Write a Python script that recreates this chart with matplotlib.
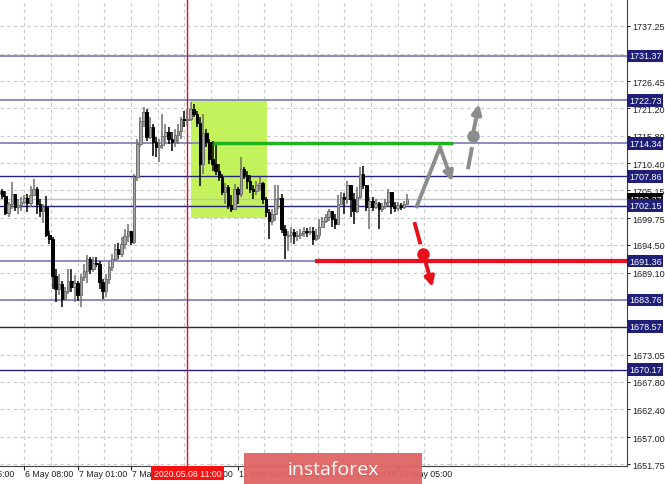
# XAUUSD H1 chart with levels, MT4 style
import numpy as np
import matplotlib.pyplot as plt
from matplotlib.patches import Rectangle

plt.rcParams['font.family'] = ['Liberation Sans', 'DejaVu Sans']

# ~~~ bars (H1) ~~~
open_ = [1704.4, 1705.0, 1704.1, 1700.7, 1702.5, 1704.4, 1701.9, 1702.3, 1702.9, 1703.7,
         1702.7, 1704.2, 1705.4, 1702.5, 1701.1, 1701.9, 1696.4, 1695.7, 1688.4, 1685.9,
         1686.9, 1684.0, 1685.5, 1687.5, 1686.3, 1687.1, 1684.7, 1688.3, 1689.4, 1691.8,
         1689.8, 1691.0, 1690.8, 1687.3, 1685.5, 1687.9, 1690.2, 1691.8, 1693.7, 1692.7,
         1694.7, 1696.2, 1697.2, 1695.1, 1707.8, 1714.2, 1718.7, 1720.4, 1715.6, 1717.5,
         1714.6, 1713.6, 1714.0, 1715.8, 1716.5, 1715.2, 1714.6, 1716.0, 1716.7, 1719.1,
         1718.9, 1719.1, 1721.0, 1720.1, 1718.3, 1710.3, 1716.3, 1714.6, 1711.3, 1710.3,
         1708.9, 1707.8, 1704.8, 1705.8, 1702.3, 1701.5, 1705.4, 1704.4, 1709.3, 1708.2,
         1707.0, 1705.4, 1705.0, 1706.2, 1706.6, 1703.5, 1700.9, 1699.2, 1700.5, 1703.5,
         1703.7, 1697.6, 1696.2, 1696.4, 1697.0, 1696.2, 1696.4, 1696.8, 1697.2, 1697.0,
         1697.2, 1695.7, 1696.4, 1698.0, 1699.2, 1700.0, 1701.1, 1699.6, 1698.6, 1702.5,
         1703.9, 1703.5, 1706.2, 1703.5, 1701.1, 1703.9, 1708.3, 1706.2, 1701.9, 1703.1,
         1701.9, 1702.7, 1701.5, 1702.1, 1702.9, 1704.8, 1702.1, 1701.7, 1702.3, 1701.9,
         1702.5]
high = [1705.8, 1705.4, 1705.0, 1702.9, 1706.8, 1704.4, 1703.5, 1703.9, 1704.2, 1704.4,
        1706.0, 1707.4, 1705.8, 1703.5, 1702.5, 1704.1, 1697.2, 1696.1, 1689.8, 1688.8,
        1687.5, 1686.3, 1689.8, 1689.8, 1688.6, 1687.5, 1688.8, 1690.8, 1692.5, 1692.2,
        1692.2, 1692.2, 1691.4, 1687.9, 1688.8, 1691.4, 1692.7, 1694.7, 1694.9, 1696.1,
        1697.6, 1698.6, 1697.2, 1708.3, 1715.2, 1719.5, 1721.4, 1721.0, 1719.5, 1718.1,
        1715.6, 1715.2, 1720.1, 1718.1, 1717.5, 1716.5, 1717.1, 1718.1, 1719.5, 1720.6,
        1721.0, 1722.4, 1722.0, 1720.6, 1719.5, 1720.1, 1717.1, 1715.2, 1714.8, 1714.2,
        1710.3, 1708.3, 1706.6, 1706.2, 1704.2, 1706.4, 1705.8, 1711.7, 1709.7, 1708.9,
        1708.2, 1706.2, 1707.0, 1707.8, 1706.8, 1703.9, 1701.5, 1701.5, 1706.2, 1706.2,
        1704.4, 1698.4, 1697.2, 1698.0, 1697.6, 1697.2, 1697.6, 1698.0, 1697.8, 1698.0,
        1698.0, 1697.6, 1699.6, 1700.0, 1700.5, 1701.5, 1701.1, 1700.5, 1704.2, 1704.8,
        1704.6, 1707.0, 1706.2, 1704.6, 1705.8, 1709.7, 1709.9, 1706.2, 1703.9, 1703.9,
        1703.5, 1702.9, 1702.7, 1703.5, 1705.4, 1704.8, 1702.9, 1702.9, 1702.7, 1703.1,
        1704.4]
low = [1704.1, 1703.5, 1700.3, 1700.0, 1701.5, 1701.1, 1700.5, 1701.1, 1702.5, 1700.9,
       1701.9, 1704.2, 1700.5, 1700.0, 1698.8, 1696.1, 1694.7, 1685.9, 1683.4, 1684.7,
       1682.4, 1683.6, 1684.9, 1685.3, 1683.4, 1683.6, 1682.4, 1687.5, 1687.1, 1688.8,
       1689.2, 1690.2, 1685.9, 1684.0, 1684.3, 1686.9, 1689.4, 1691.4, 1691.8, 1692.2,
       1693.7, 1695.1, 1694.5, 1694.7, 1707.0, 1713.6, 1717.5, 1714.8, 1715.2, 1711.9,
       1711.7, 1710.7, 1713.2, 1714.2, 1714.2, 1712.8, 1713.6, 1714.2, 1715.2, 1717.5,
       1717.9, 1718.7, 1719.5, 1717.5, 1706.0, 1708.3, 1713.6, 1710.3, 1708.9, 1708.2,
       1707.0, 1704.2, 1702.5, 1701.5, 1700.9, 1701.5, 1702.5, 1703.9, 1707.4, 1705.4,
       1704.6, 1703.5, 1704.2, 1705.0, 1702.5, 1700.0, 1695.7, 1698.4, 1699.2, 1701.5,
       1696.8, 1691.8, 1693.3, 1694.9, 1694.7, 1695.3, 1695.7, 1696.1, 1696.1, 1696.4,
       1694.5, 1695.3, 1695.7, 1698.0, 1698.8, 1699.2, 1698.0, 1697.6, 1698.6, 1702.3,
       1700.5, 1702.5, 1700.0, 1698.6, 1700.7, 1703.5, 1705.4, 1701.1, 1697.6, 1701.1,
       1701.5, 1697.6, 1700.9, 1701.5, 1702.1, 1700.5, 1700.9, 1701.1, 1701.3, 1701.5,
       1702.3]
close = [1705.0, 1704.1, 1700.7, 1702.5, 1704.4, 1701.9, 1702.3, 1702.9, 1703.7, 1702.7,
         1704.2, 1705.4, 1702.5, 1701.1, 1701.9, 1696.4, 1695.7, 1688.4, 1685.9, 1686.9,
         1684.0, 1685.5, 1687.5, 1686.3, 1687.1, 1684.7, 1688.3, 1689.4, 1691.8, 1689.8,
         1691.0, 1690.8, 1687.3, 1685.5, 1687.9, 1690.2, 1691.8, 1693.7, 1692.7, 1694.7,
         1696.2, 1697.2, 1695.1, 1707.8, 1714.2, 1718.7, 1720.4, 1715.6, 1717.5, 1714.6,
         1713.6, 1714.0, 1715.8, 1716.5, 1715.2, 1714.6, 1716.0, 1716.7, 1719.1, 1718.9,
         1719.1, 1721.0, 1720.1, 1718.3, 1710.3, 1716.3, 1714.6, 1711.3, 1710.3, 1708.9,
         1707.8, 1704.8, 1705.8, 1702.3, 1701.5, 1705.4, 1704.4, 1709.3, 1708.2, 1707.0,
         1705.4, 1705.0, 1706.2, 1706.6, 1703.5, 1700.9, 1699.2, 1700.5, 1703.5, 1703.7,
         1697.6, 1696.4, 1696.4, 1697.0, 1696.2, 1696.4, 1696.8, 1697.2, 1697.0, 1697.2,
         1695.7, 1696.4, 1698.0, 1699.2, 1700.0, 1701.1, 1699.6, 1698.6, 1702.5, 1703.9,
         1703.5, 1706.2, 1703.5, 1701.1, 1703.9, 1708.3, 1706.2, 1701.9, 1703.1, 1701.9,
         1702.7, 1701.5, 1702.1, 1702.9, 1704.8, 1702.1, 1701.7, 1702.3, 1701.9, 1702.5,
         1703.4]

# horizontal levels
levels = [1731.37, 1722.73, 1714.34, 1707.86, 1702.15, 1691.36, 1683.76, 1678.57, 1670.17]
level_colors = ['#8484bc', '#8484bc', '#8484bc', '#23237a', '#23237a',
                '#8484bc', '#8484bc', '#2a2a3a', '#23237a']
last_price = 1703.37

# price scale ticks
ytick_vals = [1737.25, 1726.45, 1721.20, 1715.80, 1710.40, 1705.15, 1699.75, 1694.50,
              1689.10, 1673.05, 1667.80, 1662.40, 1657.00, 1651.75]
grid_hidden = [1731.85, 1683.70, 1678.45]

# time scale labels (bar index, text)
xtick_pos = [-9, 8, 25, 42, 59, 76, 93, 110, 127]
xtick_lab = ['5 May 15:00', '6 May 08:00', '7 May 01:00', '7 May 18:00', '8 May 11:00',
             '11 May 04:00', '11 May 21:00', '12 May 14:00', '13 May 05:00']

fig = plt.figure(figsize=(6.65, 4.85), dpi=100)
ax = fig.add_axes([0, 18 / 485, 627 / 665, 467 / 485])
ax.set_xlim(0.25, 200.1)
ax.set_ylim(1651.37, 1742.49)

# grid
for v in ytick_vals + grid_hidden:
    ax.axhline(v, color='#c8c8c8', lw=0.8, ls=(0, (3, 3)), zorder=0)
for gx in np.arange(8, 201, 8.5):
    ax.axvline(gx, color='#c8c8c8', lw=0.8, ls=(0, (3, 3)), zorder=0)

# green zone
ax.add_patch(Rectangle((61.1, 1699.76), 85.4 - 61.1, 1722.98 - 1699.76,
                       facecolor='#c4f25c', edgecolor='none', zorder=1))

# levels
ax.axhline(last_price, color='#c0c0c0', lw=1, zorder=1.5)
for lv, c in zip(levels, level_colors):
    lw = 1.3 if c == '#8484bc' else 1.0
    ax.axhline(lv, color=c, lw=lw, zorder=1.6)

ax.axvline(60, color='#e01010', lw=1, zorder=1.7)

# candles
x = np.arange(len(close))
o = np.array(open_); c = np.array(close)
up = c >= o
for i in x:
    col = '#6e6e6e' if up[i] else '#000000'
    ax.vlines(i, low[i], high[i], color=col, lw=1.1, zorder=3)
    b0, b1 = min(o[i], c[i]), max(o[i], c[i])
    ax.add_patch(Rectangle((i - 0.4, b0), 0.8, max(b1 - b0, 0.2),
                           facecolor='#a8a8a8' if up[i] else '#000000',
                           edgecolor=col, lw=0.7, zorder=3.5))

# scenario lines
ax.plot([68, 144.6], [1714.34, 1714.34], color='#1fb41f', lw=2.5, zorder=4, solid_capstyle='butt')
ax.plot([100.5, 200.1], [1691.36, 1691.36], color='#e8101a', lw=3, zorder=4, solid_capstyle='butt')

gray = '#8c8c8c'
red = '#e8101a'
ax.plot([133.1, 140.5], [1702.04, 1713.55], color=gray, lw=2.8, zorder=5)
ax.annotate('', xy=(144.4, 1706.9), xytext=(140.5, 1713.55),
            arrowprops=dict(arrowstyle='-|>', color=gray, lw=2.8, mutation_scale=14,
                            shrinkA=0, shrinkB=0), zorder=5)
ax.plot([149.5, 150.6], [1709.65, 1713.22], color=gray, lw=2.8, zorder=5)
ax.plot([150.9], [1715.82], 'o', color=gray, ms=8, zorder=5)
ax.annotate('', xy=(152.9, 1722.0), xytext=(150.9, 1715.82),
            arrowprops=dict(arrowstyle='-|>', color=gray, lw=2.8, mutation_scale=14,
                            shrinkA=0, shrinkB=0), zorder=5)

ax.plot([132.5, 134.1], [1698.59, 1695.0], color=red, lw=2.8, zorder=5)
ax.plot([135.2], [1692.74], 'o', color=red, ms=8, zorder=5)
ax.annotate('', xy=(138.1, 1686.3), xytext=(135.2, 1692.74),
            arrowprops=dict(arrowstyle='-|>', color=red, lw=2.8, mutation_scale=14,
                            shrinkA=0, shrinkB=0), zorder=5)

# axes look
for s in ['top', 'left']:
    ax.spines[s].set_visible(False)
ax.spines['right'].set_color('#404040')
ax.spines['bottom'].set_color('#404040')
ax.yaxis.tick_right()
ax.set_yticks(ytick_vals)
ax.set_yticklabels([f'{v:.2f}' for v in ytick_vals])
ax.tick_params(axis='y', length=2, width=0.8, pad=1.5, labelsize=6.5, colors='#202020')
ax.set_xticks([p for p in xtick_pos if p > 0])
ax.set_xticklabels([])
ax.tick_params(axis='x', length=3, width=0.8, colors='#202020')
xt = ax.get_xaxis_transform()
for p, lab in zip(xtick_pos, xtick_lab):
    xp = p - 1.5 if p < 0 else p + 0.3
    ax.text(xp, -0.006, lab, transform=xt, ha='left', va='top', fontsize=6.3,
            color='#202020', clip_on=False)

# price boxes on the scale
yt = ax.get_yaxis_transform()
ax.text(1.003, last_price, f'{last_price:.2f}', transform=yt, ha='left', va='center',
        fontsize=6.5, color='white', clip_on=False, zorder=6,
        bbox=dict(boxstyle='square,pad=0.2', fc='black', ec='none'))
for lv in levels:
    ax.text(1.003, lv, f'{lv:.2f}', transform=yt, ha='left', va='center', fontsize=6.5,
            color='white', clip_on=False, zorder=7,
            bbox=dict(boxstyle='square,pad=0.2', fc='#1f1f78', ec='none'))

# crosshair time label
ax.text(60, -0.006, '2020.05.08 11:00', transform=xt, ha='center', va='top', fontsize=6.3,
        color='white', clip_on=False, zorder=8,
        bbox=dict(boxstyle='square,pad=0.3', fc='#ff1010', ec='none'))

# watermark
fig.patches.append(Rectangle((244 / 665, 0), 178 / 665, 31 / 485, transform=fig.transFigure,
                             facecolor='#e06464', edgecolor='none', alpha=0.95, zorder=10))
fig.text(333 / 665, 15 / 485, 'instaforex', ha='center', va='center', fontsize=14,
         color='white', family='Open Sans', zorder=11)

fig.savefig('out.png', dpi=100)
